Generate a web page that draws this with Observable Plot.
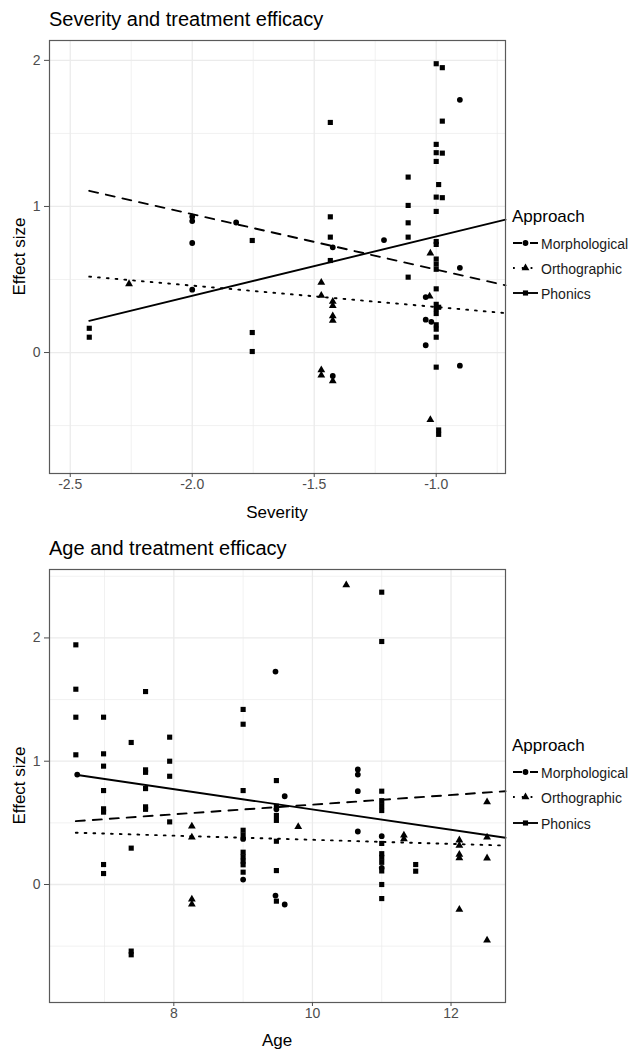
<!DOCTYPE html>
<html><head><meta charset="utf-8">
<script src="https://cdn.jsdelivr.net/npm/d3@7"></script>
<script src="https://cdn.jsdelivr.net/npm/@observablehq/plot@0.6"></script>
<style>
html,body{margin:0;padding:0;background:#fff;}
#root{position:relative;width:629px;height:1052px;overflow:hidden;font-family:"Liberation Sans",Arial,sans-serif;}
.abs{position:absolute;white-space:nowrap;line-height:1;}
</style></head><body><div id="root"></div>
<script>
// ---------- data ----------
const approaches = ["Morphological", "Orthographic", "Phonics"];

// Panel 1: Severity vs effect size  [severity, effect size]
const sevMorphological = [[-2.0,0.93],[-2.0,0.90],[-2.0,0.75],[-2.0,0.43],[-1.82,0.89],[-1.424,0.72],[-1.424,-0.16],
  [-1.214,0.77],[-1.043,0.38],[-1.043,0.225],[-1.02,0.21],[-1.043,0.05],[-0.903,1.73],[-0.903,0.58],[-0.903,-0.09]];
const sevOrthographic = [[-2.259,0.47],[-1.471,0.48],[-1.471,0.39],[-1.424,0.35],[-1.424,0.32],[-1.424,0.25],[-1.424,0.22],
  [-1.471,-0.12],[-1.471,-0.155],[-1.424,-0.195],[-1.024,0.68],[-1.027,0.385],[-1.024,-0.46]];
const sevPhonics = [[-2.422,0.166],[-2.422,0.105],[-1.754,0.767],[-1.754,0.137],[-1.754,0.007],
  [-1.434,1.575],[-1.434,0.929],[-1.434,0.79],[-1.434,0.63],
  [-1.115,1.201],[-1.115,1.007],[-1.115,0.888],[-1.115,0.79],[-1.115,0.516],
  [-1.0,1.977],[-1.0,1.425],[-1.0,1.368],[-1.0,1.308],[-1.0,1.064],[-1.0,0.966],[-1.0,0.76],[-1.0,0.74],[-1.0,0.64],
  [-1.0,0.605],[-1.0,0.57],[-1.0,0.436],[-1.0,0.33],[-1.0,0.30],[-1.0,0.267],[-1.0,0.19],[-1.0,0.16],[-1.0,0.105],[-1.0,-0.10],
  [-0.99,-0.53],[-0.99,-0.56],[-0.99,1.15],[-0.99,0.31],
  [-0.975,1.95],[-0.975,1.584],[-0.975,1.365],[-0.975,1.06]];
// fitted lines (start / end of the x range)
const sevTrendX = [-2.422, -0.716];
const sevTrendMorphological = [1.107, 0.46];
const sevTrendOrthographic = [0.52, 0.27];
const sevTrendPhonics = [0.217, 0.91];
const sevXTicks = [-2.5, -2.0, -1.5, -1.0];
const sevXMinor = [-2.25, -1.75, -1.25, -0.75];
const sevYTicks = [0, 1, 2];
const sevYMinor = [-0.5, 0.5, 1.5];

// Panel 2: Age vs effect size  [age, effect size]
const ageMorphological = [[6.606,0.892],[9.0,0.37],[9.0,0.04],[9.467,1.727],[9.48,0.61],[9.6,0.716],[9.467,-0.09],[9.6,-0.162],
  [10.655,0.933],[10.655,0.892],[10.655,0.757],[10.655,0.43],[11.0,0.392],[11.0,0.135]];
const ageOrthographic = [[8.26,0.473],[8.26,0.384],[8.26,-0.12],[8.26,-0.16],[9.795,0.468],[10.488,2.43],[11.32,0.40],[11.32,0.37],
  [12.12,0.36],[12.12,0.316],[12.12,0.243],[12.12,0.216],[12.12,-0.203],[12.52,0.67],[12.52,0.384],[12.52,0.214],[12.52,-0.452]];
const agePhonics = [[6.586,1.944],[6.586,1.584],[6.586,1.357],[6.586,1.052],
  [6.986,1.357],[6.986,1.06],[6.986,0.96],[6.986,0.762],[6.986,0.614],[6.986,0.587],[6.986,0.162],[6.986,0.089],
  [7.385,1.152],[7.385,0.295],[7.385,-0.54],[7.385,-0.57],
  [7.592,1.565],[7.592,0.93],[7.592,0.91],[7.592,0.778],[7.592,0.63],[7.592,0.61],
  [7.94,1.195],[7.94,1.0],[7.94,0.878],[7.94,0.508],
  [9.0,1.42],[9.0,1.30],[9.0,0.762],[9.0,0.44],[9.0,0.40],[9.0,0.262],[9.0,0.225],[9.0,0.19],[9.0,0.16],[9.0,0.10],
  [9.48,0.843],[9.48,0.635],[9.48,0.56],[9.48,0.52],[9.48,0.351],[9.48,0.113],[9.48,-0.135],
  [11.0,2.371],[11.0,1.971],[11.0,0.757],[11.0,0.68],[11.0,0.64],[11.0,0.60],[11.0,0.333],[11.0,0.25],[11.0,0.22],
  [11.0,0.18],[11.0,0.11],[11.0,0.0],[11.0,-0.114],
  [11.49,0.162],[11.49,0.108]];
const ageTrendX = [6.586, 12.786];
const ageTrendMorphological = [0.514, 0.757];
const ageTrendOrthographic = [0.42, 0.316];
const ageTrendPhonics = [0.89, 0.379];
const ageXTicks = [8, 10, 12];
const ageXMinor = [7, 9, 11];
const ageYTicks = [0, 1, 2];
const ageYMinor = [-0.5, 0.5, 1.5, 2.5];

// ---------- styling ----------
const FONT = '"Liberation Sans", Arial, sans-serif';
const symbolNames = ["circle", "triangle", "square"];
const d3Symbols = [d3.symbolCircle, d3.symbolTriangle, d3.symbolSquare];
const dashes = ["9,8", "1.8,7", null];
const R = 2.9;
const LW = 1.9;

function toRows(pairs, approach) { return pairs.map(([x, y]) => ({x, y, approach})); }

function panel(cfg) {
  const marks = [
    Plot.ruleX(cfg.xMinor, {stroke: "#ebebeb", strokeWidth: 0.7}),
    Plot.ruleY(cfg.yMinor, {stroke: "#ebebeb", strokeWidth: 0.7}),
    Plot.ruleX(cfg.xTicks, {stroke: "#ebebeb", strokeWidth: 1.3}),
    Plot.ruleY(cfg.yTicks, {stroke: "#ebebeb", strokeWidth: 1.3})
  ];
  approaches.forEach((a, i) => {
    const line = cfg.trendX.map((x, j) => ({x, y: cfg.trends[i][j]}));
    const opts = {x: "x", y: "y", stroke: "black", strokeWidth: LW};
    if (dashes[i]) opts.strokeDasharray = dashes[i];
    marks.push(Plot.line(line, opts));
  });
  marks.push(Plot.dot(cfg.points, {x: "x", y: "y", symbol: "approach", fill: "black", stroke: "none", r: R}));
  marks.push(Plot.frame({stroke: "#5a5a5a", strokeWidth: 1.2}));
  marks.push(Plot.axisX(cfg.xTicks, {tickSize: 4, tickPadding: 2, tickFormat: cfg.xFmt, label: null}));
  marks.push(Plot.axisY(cfg.yTicks, {tickSize: 5, tickPadding: 4, tickFormat: d => String(d), label: null}));
  return Plot.plot({
    width: 510, height: 503,
    marginLeft: 49, marginRight: 5, marginTop: 40, marginBottom: 30,
    x: {domain: cfg.xDomain},
    y: {domain: cfg.yDomain},
    symbol: {domain: approaches, range: symbolNames},
    style: {fontFamily: FONT, fontSize: "14px", color: "#4d4d4d", background: "transparent", overflow: "visible"},
    marks
  });
}

const root = document.getElementById("root");
function text(str, {left, baseline, size, color = "#000", center = null}) {
  const d = document.createElement("div");
  d.className = "abs";
  d.textContent = str;
  d.style.fontSize = size + "px";
  d.style.color = color;
  d.style.top = (baseline - 0.8465 * size) + "px";
  if (center !== null) { d.style.left = (center - 200) + "px"; d.style.width = "400px"; d.style.textAlign = "center"; }
  else d.style.left = left + "px";
  root.appendChild(d);
  return d;
}
function vtext(str, {cx, cy, size}) {
  const d = document.createElement("div");
  d.className = "abs";
  d.textContent = str;
  d.style.fontSize = size + "px";
  d.style.width = "300px";
  d.style.height = size + "px";
  d.style.textAlign = "center";
  d.style.left = (cx - 150) + "px";
  d.style.top = (cy - size / 2) + "px";
  d.style.transform = "rotate(-90deg)";
  root.appendChild(d);
}
function legend(titleBaseline, rowCenters) {
  text("Approach", {left: 512, baseline: titleBaseline, size: 17, color: "#000"});
  approaches.forEach((a, i) => {
    const c = rowCenters[i];
    const svg = d3.create("svg").attr("width", 30).attr("height", 14)
      .style("position", "absolute").style("left", "511px").style("top", (c - 7) + "px");
    const ln = svg.append("line").attr("x1", 2).attr("x2", 27).attr("y1", 7).attr("y2", 7)
      .attr("stroke", "black").attr("stroke-width", LW);
    if (dashes[i]) ln.attr("stroke-dasharray", dashes[i]);
    svg.append("path").attr("transform", "translate(14.5,7)")
      .attr("d", d3.symbol().type(d3Symbols[i]).size(Math.PI * R * R)()).attr("fill", "black");
    root.appendChild(svg.node());
    text(a, {left: 541, baseline: c + 6, size: 14, color: "#1a1a1a"});
  });
}

// ---------- panel 1 ----------
const p1 = panel({
  points: [...toRows(sevMorphological, approaches[0]), ...toRows(sevOrthographic, approaches[1]), ...toRows(sevPhonics, approaches[2])],
  trendX: sevTrendX,
  trends: [sevTrendMorphological, sevTrendOrthographic, sevTrendPhonics],
  xDomain: [-2.585, -0.716], yDomain: [-0.828, 2.136],
  xTicks: sevXTicks, xMinor: sevXMinor, yTicks: sevYTicks, yMinor: sevYMinor,
  xFmt: d => d.toFixed(1)
});
p1.style.position = "absolute"; p1.style.left = "0px"; p1.style.top = "0px";
root.appendChild(p1);
text("Severity and treatment efficacy", {left: 49, baseline: 26, size: 20});
text("Severity", {center: 277, baseline: 518, size: 17});
vtext("Effect size", {cx: 19, cy: 256.5, size: 17});
legend(222.7, [243.3, 268.3, 293.3]);

// ---------- panel 2 ----------
const p2 = panel({
  points: [...toRows(ageMorphological, approaches[0]), ...toRows(ageOrthographic, approaches[1]), ...toRows(agePhonics, approaches[2])],
  trendX: ageTrendX,
  trends: [ageTrendMorphological, ageTrendOrthographic, ageTrendPhonics],
  xDomain: [6.206, 12.786], yDomain: [-0.957, 2.555],
  xTicks: ageXTicks, xMinor: ageXMinor, yTicks: ageYTicks, yMinor: ageYMinor,
  xFmt: d => String(d)
});
p2.style.position = "absolute"; p2.style.left = "0px"; p2.style.top = "529px";
root.appendChild(p2);
text("Age and treatment efficacy", {left: 49, baseline: 555, size: 20});
text("Age", {center: 277, baseline: 1046.5, size: 17});
vtext("Effect size", {cx: 19, cy: 785.5, size: 17});
legend(751.7, [772.3, 797.3, 823.3]);
</script></body></html>
